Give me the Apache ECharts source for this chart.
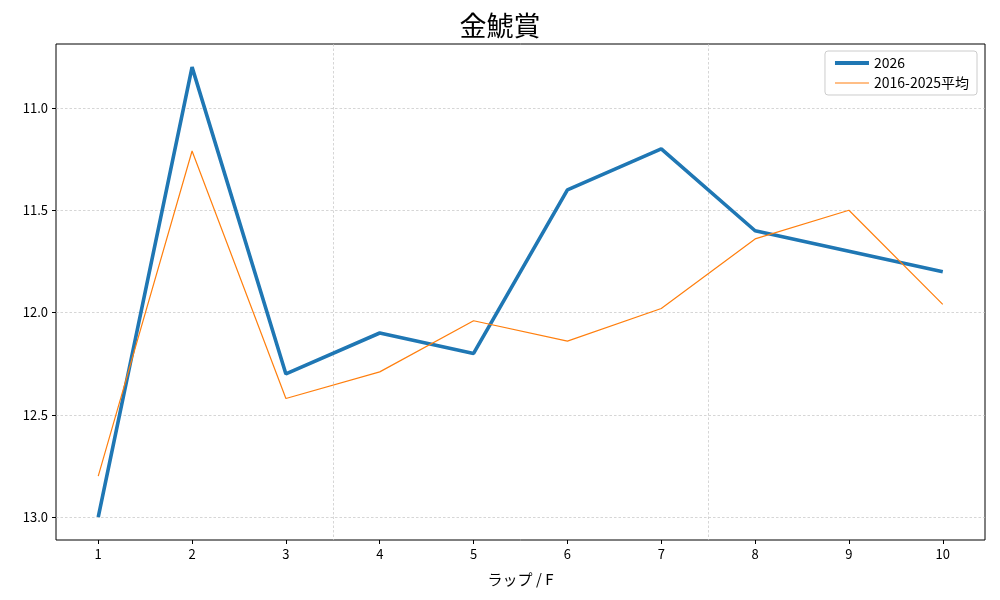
<!DOCTYPE html>
<html><head><meta charset="utf-8">
<script src="https://cdn.jsdelivr.net/npm/echarts@6/dist/echarts.min.js"></script>
<style>html,body{margin:0;padding:0;background:#fff}#c{width:1000px;height:600px}</style>
</head><body><div id="c"></div>
<script>
const laps = [1,2,3,4,5,6,7,8,9,10];
const y2026 = [13.0,10.8,12.3,12.1,12.2,11.4,11.2,11.6,11.7,11.8];
const yAvg = [12.8,11.21,12.42,12.29,12.04,12.14,11.98,11.64,11.5,11.96];
const yTicks = [11.0,11.5,12.0,12.5,13.0];
const vLines = [3.5,7.5];
const font = '"Noto Sans CJK JP","DejaVu Sans",sans-serif';
const chart = echarts.init(document.getElementById('c'));
const grid = [];
yTicks.forEach(v=>grid.push({yAxis:v}));
vLines.forEach(v=>grid.push({xAxis:v}));
chart.setOption({
  animation:false,
  title:{text:'金鯱賞',left:'center',top:7,textStyle:{fontFamily:font,fontSize:27,fontWeight:'normal',color:'#000'}},
  grid:{left:56,right:15,top:44,bottom:60,show:true,borderColor:'#000',borderWidth:1,backgroundColor:'transparent'},
  legend:{orient:'vertical',right:23,top:51,itemWidth:34,itemHeight:10,itemGap:6,padding:[5,8,5,8],
    borderColor:'#ccc',borderWidth:1,borderRadius:3,backgroundColor:'rgba(255,255,255,0.8)',
    itemStyle:{opacity:0},
    textStyle:{fontFamily:font,fontSize:14,color:'#000'},
    data:[{name:'2026',lineStyle:{width:4,color:'#1f77b4'}},{name:'2016-2025平均',lineStyle:{width:1.2,color:'#ff7f0e'}}]},
  xAxis:{type:'value',min:0.55,max:10.45,
    name:'ラップ / F',nameLocation:'middle',nameGap:32,nameTextStyle:{fontFamily:font,fontSize:15,color:'#000'},
    axisLine:{show:false},splitLine:{show:false},
    axisTick:{show:true,customValues:laps,length:4,inside:false,lineStyle:{color:'#000'}},
    axisLabel:{customValues:laps,fontFamily:font,fontSize:13,color:'#000',margin:8}},
  yAxis:{type:'value',inverse:true,min:10.687,max:13.112,
    axisLine:{show:false},splitLine:{show:false},
    axisTick:{show:true,customValues:yTicks,length:4,lineStyle:{color:'#000'}},
    axisLabel:{customValues:yTicks,formatter:v=>v.toFixed(1),fontFamily:font,fontSize:13,color:'#000',margin:8}},
  series:[
    {name:'2026',type:'line',data:laps.map((x,i)=>[x,y2026[i]]),symbol:'none',z:3,
      lineStyle:{color:'#1f77b4',width:3.6},itemStyle:{color:'#1f77b4'},
      markLine:{silent:true,symbol:'none',label:{show:false},lineStyle:{color:'#c4c4c4',type:[2.5,2],width:0.7},data:grid,z:1}},
    {name:'2016-2025平均',type:'line',data:laps.map((x,i)=>[x,yAvg[i]]),symbol:'none',z:4,
      lineStyle:{color:'#ff7f0e',width:1.2},itemStyle:{color:'#ff7f0e'}}
  ]
});
</script></body></html>
